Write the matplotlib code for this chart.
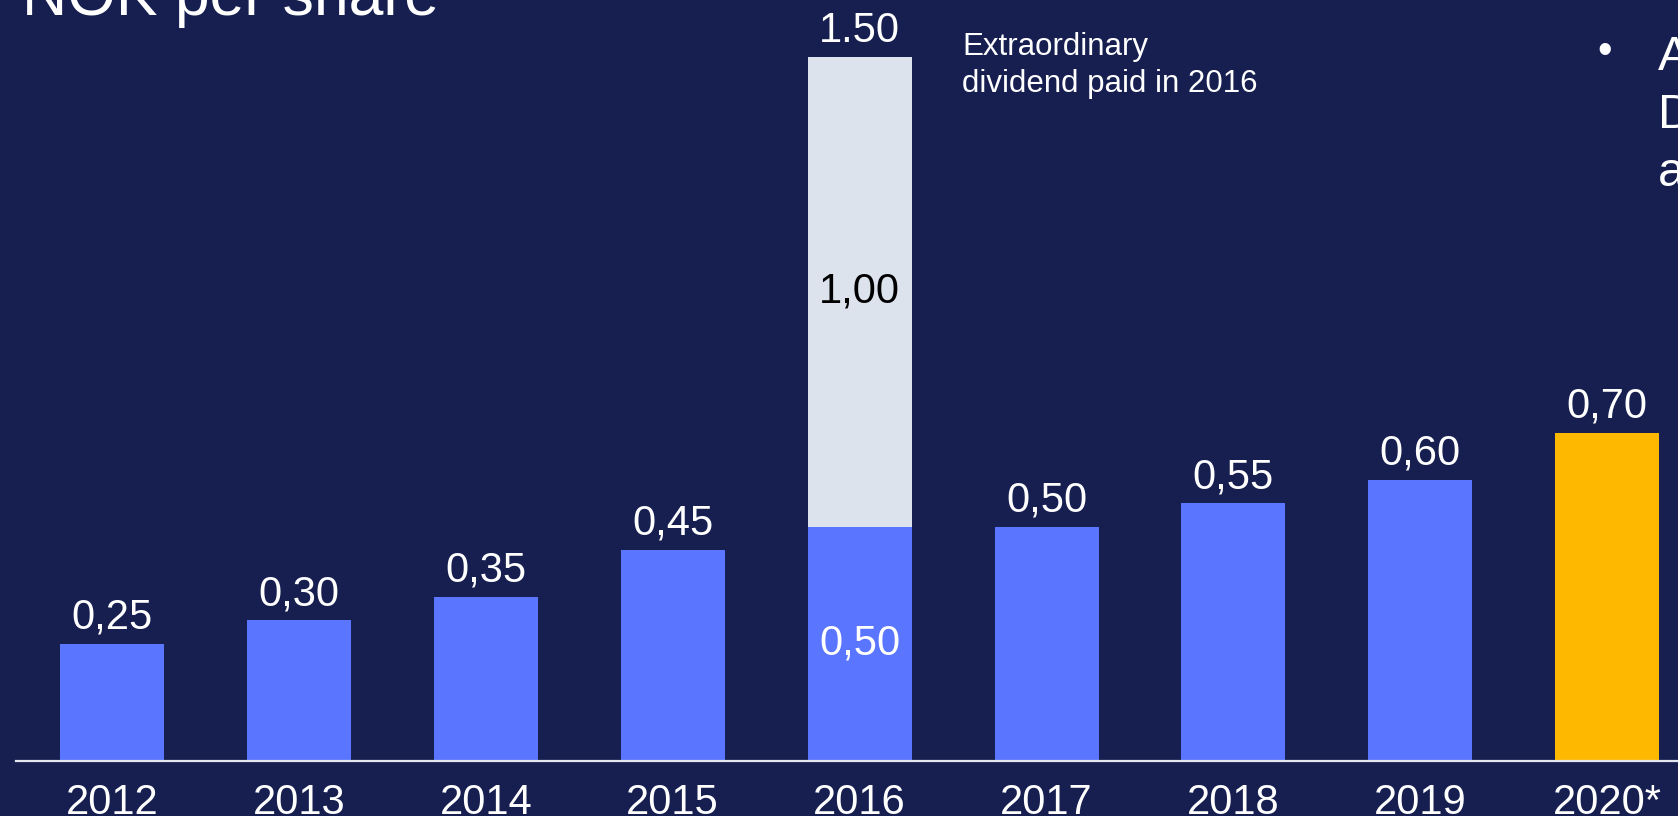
import matplotlib
matplotlib.use('Agg')
import matplotlib.pyplot as plt

years = ['2012', '2013', '2014', '2015', '2016', '2017', '2018', '2019', '2020*']
ordinary = [0.25, 0.30, 0.35, 0.45, 0.50, 0.50, 0.55, 0.60, 0.70]
extra = [0, 0, 0, 0, 1.00, 0, 0, 0, 0]
labels = ['0,25', '0,30', '0,35', '0,45', '0,50', '0,50', '0,55', '0,60', '0,70']
total_2016 = '1.50'
extra_label = '1,00'

bg = '#161F50'
blue = '#5A75FF'
grey = '#DDE3ED'
gold = '#FFB800'

plt.rcParams['font.family'] = ['Liberation Sans', 'DejaVu Sans']

W, H = 1678, 816
fig = plt.figure(figsize=(W / 100, H / 100), dpi=100, facecolor=bg)
ax = fig.add_axes([0, 0, 1, 1])
ax.set_facecolor(bg)

# pixel layout: first bar centre at 112 px, step 186.9 px, baseline at 761 px, 469 px per NOK
step = 186.9
ppu = 469.0
ax.set_xlim(-112 / step, (W - 112) / step)
ax.set_ylim(-(H - 761) / ppu, 761 / ppu)
ax.axis('off')

x = list(range(len(years)))
colors = [blue] * (len(years) - 1) + [gold]
ax.bar(x, ordinary, width=104 / step, color=colors, zorder=2)
ax.bar(x, extra, bottom=ordinary, width=104 / step, color=grey, zorder=2)

ax.axhline(0, xmin=16 / W, xmax=1, color='#E4E6EE', lw=1.6, zorder=3)

gap = 15 / ppu
for i, (v, e, lab) in enumerate(zip(ordinary, extra, labels)):
    if e > 0:
        ax.text(i, v + e + gap, total_2016, ha='center', va='baseline', fontsize=30, color='white')
        ax.text(i, v + e / 2, extra_label, ha='center', va='center', fontsize=30, color='black')
        ax.text(i, v / 2, lab, ha='center', va='center', fontsize=30, color='white')
    else:
        ax.text(i, v + gap, lab, ha='center', va='baseline', fontsize=30, color='white')
    ax.text(i, -53 / ppu, years[i], ha='center', va='baseline', fontsize=30, color='white')

fig.text(22 / W, 1 - 15 / H, 'NOK per share', ha='left', va='baseline', fontsize=45, color='white')

for k, line in enumerate(['Extraordinary', 'dividend paid in 2016']):
    fig.text(962 / W, 1 - (55 + 37 * k) / H, line, ha='left', va='baseline', fontsize=22.5, color='white')

fig.text(1605 / W, 1 - 52 / H, '•', ha='center', va='center', fontsize=30, color='white')
for k, line in enumerate(['A', 'D', 'a']):
    fig.text(1658 / W, 1 - (70 + 58 * k) / H, line, ha='left', va='baseline', fontsize=35, color='white')

fig.savefig('out.png', dpi=100, facecolor=bg)
